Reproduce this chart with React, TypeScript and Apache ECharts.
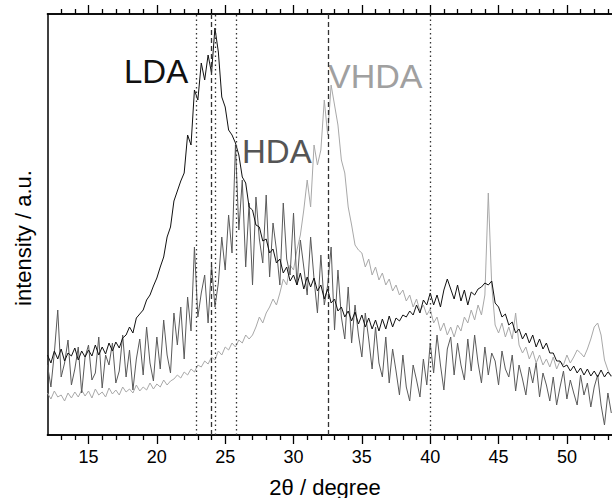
import React, { useEffect, useRef } from "react";
import * as echarts from "echarts";

// sampling grid of the patterns (2θ in degrees)
const X_START = 12;
const X_STEP = 0.25;

// intensities (a.u.), one value per 0.25°, starting at 12°
const LDA = [
  80, 72, 84, 76, 86, 74, 82, 79, 87, 75, 84, 78, 85, 79, 90, 80,
  88, 81, 92, 84, 93, 87, 97, 100, 108, 102, 117, 121, 125, 135, 140, 149,
  157, 168, 178, 198, 208, 234, 244, 254, 262, 300, 290, 345, 335, 372, 355, 380,
  362, 407, 383, 338, 328, 305, 300, 292, 280, 258, 252, 228, 225, 210, 208, 194,
  196, 182, 186, 172, 176, 162, 168, 154, 160, 150, 162, 146, 158, 148, 157, 144,
  150, 136, 146, 132, 136, 124, 128, 118, 124, 114, 123, 111, 120, 108, 117, 106,
  115, 104, 116, 106, 119, 108, 117, 114, 120, 118, 124, 120, 130, 122, 135, 130,
  142, 130, 140, 128, 145, 156, 146, 136, 150, 134, 145, 130, 143, 140, 146, 148,
  152, 150, 154, 132, 128, 118, 121, 110, 113, 102, 106, 96, 102, 92, 100, 88,
  96, 86, 92, 82, 82, 74, 74, 68, 70, 64, 69, 62, 67, 60, 66, 59,
  64, 58, 65, 58, 63, 59,
];

const HDA = [
  70, 48, 82, 125, 58, 72, 95, 50, 66, 88, 42, 78, 90, 55, 62, 98,
  47, 80, 70, 92, 52, 64, 100, 58, 85, 45, 76, 96, 60, 108, 72, 54,
  98, 66, 115, 80, 62, 122, 90, 128, 76, 138, 104, 188, 118, 142, 160, 112,
  170, 128, 152, 198, 165, 220, 182, 290, 205, 255, 168, 232, 150, 238, 196, 172,
  240, 158, 212, 185, 150, 232, 176, 160, 222, 150, 195, 168, 140, 198, 156, 122,
  180, 130, 150, 188, 105, 165, 118, 96, 148, 92, 130, 100, 78, 122, 96, 66,
  108, 72, 58, 98, 52, 86, 64, 40, 80, 48, 34, 70, 55, 38, 76, 50,
  92, 62, 100, 70, 45, 86, 98, 60, 92, 70, 55, 96, 64, 100, 72, 52,
  88, 60, 82, 74, 50, 84, 66, 58, 80, 44, 70, 56, 40, 68, 52, 72,
  38, 62, 50, 34, 58, 30, 48, 64, 36, 55, 42, 30, 60, 40, 52, 28,
  48, 60, 30, 10, 42, 22,
];

const VHDA = [
  42, 36, 44, 38, 40, 34, 42, 37, 43, 38, 45, 39, 44, 37, 46, 40,
  43, 38, 47, 41, 45, 40, 48, 43, 46, 42, 50, 44, 48, 45, 52, 46,
  51, 48, 55, 50, 54, 56, 60, 57, 63, 60, 66, 63, 70, 68, 74, 71,
  78, 75, 84, 80, 88, 85, 92, 88, 95, 92, 100, 96, 100, 108, 118, 112,
  122, 128, 136, 130, 142, 156, 150, 170, 165, 185, 200, 225, 255, 228, 290, 270,
  285, 335, 300, 350, 330, 310, 275, 262, 228, 210, 190, 185, 182, 168, 176, 160,
  168, 155, 162, 150, 156, 144, 150, 140, 145, 134, 140, 128, 136, 124, 130, 120,
  126, 112, 118, 104, 112, 100, 108, 98, 110, 104, 118, 112, 125, 115, 130, 120,
  140, 242, 150, 110, 102, 112, 98, 108, 96, 122, 90, 82, 88, 76, 84, 72,
  80, 70, 76, 68, 78, 66, 74, 70, 80, 72, 78, 85, 82, 78, 86, 96,
  108, 112, 100, 75, 65, 58,
];

const MAJOR_TICKS = [15, 20, 25, 30, 35, 40, 45, 50];
const MINOR_TICKS = [13, 14, 16, 17, 18, 19, 21, 22, 23, 24, 26, 27, 28, 29, 31, 32, 33, 34, 36, 37, 38, 39, 41, 42, 43, 44, 46, 47, 48, 49, 51, 52, 53];
const REF_DOTTED = [22.86, 24.3, 25.8, 40.0];
const REF_DASHED = [24.0, 32.57];

const X_MIN = 12;
const X_MAX = 53.3;
const Y_MAX = 421;

const FONT = "'Liberation Sans', Arial, Helvetica, sans-serif";

const toPairs = (arr: number[]) => arr.map((v, i) => [X_START + i * X_STEP, v]);

export default function App() {
  const ref = useRef<HTMLDivElement>(null);

  useEffect(() => {
    if (!ref.current) return;
    const chart = echarts.init(ref.current, undefined, { renderer: "svg" });

    const baseX = {
      type: "value" as const,
      min: X_MIN,
      max: X_MAX,
      splitLine: { show: false },
      axisLine: { show: true, onZero: false, lineStyle: { color: "#000", width: 1.5 } },
    };

    chart.setOption({
      animation: false,
      backgroundColor: "#fff",
      textStyle: { fontFamily: FONT },
      grid: { left: 47.5, right: 0, top: 14, bottom: 63, containLabel: false },
      xAxis: [
        {
          ...baseX,
          position: "bottom",
          axisTick: { show: true, inside: false, length: 9, customValues: MAJOR_TICKS, lineStyle: { color: "#000", width: 1.3 } },
          axisLabel: { show: true, customValues: MAJOR_TICKS, fontSize: 18, color: "#000", margin: 13, fontFamily: FONT },
        },
        {
          ...baseX,
          position: "bottom",
          axisTick: { show: true, inside: false, length: 5, customValues: MINOR_TICKS, lineStyle: { color: "#000", width: 1.3 } },
          axisLabel: { show: false },
        },
        {
          ...baseX,
          position: "top",
          axisTick: { show: true, inside: false, length: 9, customValues: MAJOR_TICKS, lineStyle: { color: "#000", width: 1.3 } },
          axisLabel: { show: false },
        },
        {
          ...baseX,
          position: "top",
          axisTick: { show: true, inside: false, length: 5, customValues: MINOR_TICKS, lineStyle: { color: "#000", width: 1.3 } },
          axisLabel: { show: false },
        },
      ],
      yAxis: {
        type: "value",
        min: 0,
        max: Y_MAX,
        position: "left",
        splitLine: { show: false },
        axisTick: { show: false },
        axisLabel: { show: false },
        axisLine: { show: true, lineStyle: { color: "#000", width: 1.5 } },
      },
      series: [
        {
          name: "VHDA",
          type: "line",
          xAxisIndex: 0,
          data: toPairs(VHDA),
          showSymbol: false,
          lineStyle: { color: "#a8a8a8", width: 1 },
          z: 2,
          markLine: {
            silent: true,
            symbol: "none",
            label: { show: false },
            lineStyle: { color: "#333", width: 1.3 },
            data: [
              ...REF_DOTTED.map((v) => ({ xAxis: v, lineStyle: { type: [1.5, 3], color: "#333", width: 1.3 } })),
              ...REF_DASHED.map((v) => ({ xAxis: v, lineStyle: { type: [5, 3], color: "#333", width: 1.3 } })),
            ],
          },
        },
        {
          name: "HDA",
          type: "line",
          xAxisIndex: 0,
          data: toPairs(HDA),
          showSymbol: false,
          lineStyle: { color: "#5a5a5a", width: 1 },
          z: 3,
        },
        {
          name: "LDA",
          type: "line",
          xAxisIndex: 0,
          data: toPairs(LDA),
          showSymbol: false,
          lineStyle: { color: "#111", width: 1 },
          z: 4,
        },
      ],
      graphic: [
        { type: "text", left: 124, top: 55, style: { text: "LDA", fontSize: 33, fontFamily: FONT, fill: "#111" } },
        { type: "text", left: 242, top: 135, style: { text: "HDA", fontSize: 33, fontFamily: FONT, fill: "#555" } },
        { type: "text", left: 328, top: 59, style: { text: "VHDA", fontSize: 34, fontFamily: FONT, fill: "#a0a0a0" } },
        {
          type: "text",
          x: 325,
          y: 487,
          style: { text: "2θ / degree", fontSize: 22, fontFamily: FONT, fill: "#000", align: "center", verticalAlign: "middle" },
        },
        {
          type: "text",
          x: 23,
          y: 238,
          rotation: Math.PI / 2,
          style: { text: "intensity / a.u.", fontSize: 22, fontFamily: FONT, fill: "#000", align: "center", verticalAlign: "middle" },
        },
      ],
    });

    return () => chart.dispose();
  }, []);

  return <div ref={ref} style={{ position: "absolute", left: 0, top: 0, width: 612, height: 498 }} />;
}
